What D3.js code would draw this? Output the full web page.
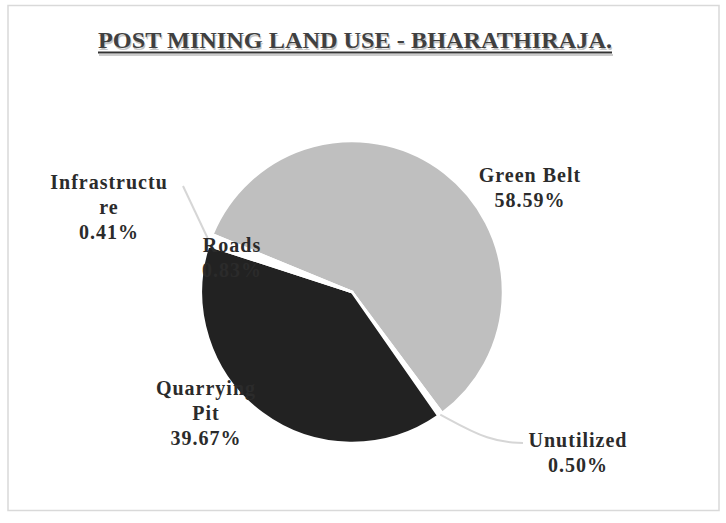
<!DOCTYPE html>
<html>
<head>
<meta charset="utf-8">
<script src="https://cdn.jsdelivr.net/npm/d3@7"></script>
<style>
  html, body { margin: 0; padding: 0; background: #fff; }
  svg { display: block; }
  text { font-family: "Liberation Serif", "Times New Roman", serif; }
</style>
</head>
<body>
<script>
// ---- data ----
const categories = ["Green Belt", "Unutilized", "Quarrying Pit", "Roads", "Infrastructure"];
const values = [58.59, 0.50, 39.67, 0.83, 0.41];
const labelLines = [
  ["Green Belt", "58.59%"],
  ["Unutilized", "0.50%"],
  ["Quarrying", "Pit", "39.67%"],
  ["Roads", "0.83%"],
  ["Infrastructu", "re", "0.41%"]
];
const titleText = "POST MINING  LAND USE - BHARATHIRAJA.";

// ---- layout / style ----
const W = 726, H = 523;
const cx = 352, cy = 292, R = 151;
const colors = ["#bfbfbf", "#ffffff", "#222222", "#ffffff", "#ffffff"];
const labelPos = [[530, 175], [578, 440], [206, 388], [232, 245], [109, 182]];
const leaderEnd = [null, [523, 443], null, null, [183, 186]];
const leaderCurve = [false, true, false, false, false];
const lineGap = 25;

const svg = d3.select("body").append("svg").attr("width", W).attr("height", H);

svg.append("rect").attr("x", 8).attr("y", 5.5).attr("width", 711).attr("height", 505)
  .attr("fill", "#fff").attr("stroke", "#d9d9d9").attr("stroke-width", 1.5);

// title
const tX0 = 98, tW = 514, tY = 48;
svg.append("text").attr("x", tX0 + 1).attr("y", tY + 1.5)
  .attr("textLength", tW).attr("lengthAdjust", "spacingAndGlyphs")
  .attr("font-size", 23).attr("font-weight", "bold").attr("fill", "#c4c4c4").text(titleText);
svg.append("text").attr("x", tX0).attr("y", tY)
  .attr("textLength", tW).attr("lengthAdjust", "spacingAndGlyphs")
  .attr("font-size", 23).attr("font-weight", "bold").attr("fill", "#404040").text(titleText);
svg.append("line").attr("x1", tX0).attr("x2", tX0 + tW).attr("y1", 52.5).attr("y2", 52.5)
  .attr("stroke", "#333").attr("stroke-width", 2);
svg.append("line").attr("x1", tX0 + 1).attr("x2", tX0 + tW + 1).attr("y1", 55).attr("y2", 55)
  .attr("stroke", "#bbb").attr("stroke-width", 1.5);

// pie
const data = categories.map((c, i) => ({ name: c, value: values[i], idx: i }));
const start = -67.6 * Math.PI / 180;
const pie = d3.pie().value(d => d.value).sort(null)
  .startAngle(start).endAngle(start + 2 * Math.PI);
const arcs = pie(data);
const arc = d3.arc().innerRadius(0).outerRadius(R);
const outer = d3.arc().innerRadius(R).outerRadius(R);

const g = svg.append("g").attr("transform", `translate(${cx},${cy})`);
g.selectAll("path").data(arcs).join("path")
  .attr("d", arc)
  .attr("fill", d => colors[d.data.idx])
  .attr("stroke", "#fff").attr("stroke-width", 2.5).attr("stroke-linejoin", "round");

// leader lines
arcs.forEach(a => {
  const i = a.data.idx;
  const e = leaderEnd[i];
  if (!e) return;
  const p = outer.centroid(a);
  const sx = cx + p[0], sy = cy + p[1];
  const pts = leaderCurve[i]
    ? [[sx, sy], [sx + (e[0] - sx) * 0.6, sy + (e[1] - sy) * 0.95], e]
    : [[sx - 4, sy + 2], e];
  svg.append("path")
    .attr("d", d3.line().curve(d3.curveBasis)(pts))
    .attr("fill", "none").attr("stroke", "#d6d6d6").attr("stroke-width", 2);
});

// labels
arcs.forEach(a => {
  const i = a.data.idx;
  const [lx, ly] = labelPos[i];
  const t = svg.append("text").attr("text-anchor", "middle")
    .attr("font-size", 20).attr("font-weight", "bold").attr("letter-spacing", 1)
    .attr("fill", "#2b2b2b");
  labelLines[i].forEach((s, k) => {
    t.append("tspan").attr("x", lx).attr("y", ly + 7 + k * lineGap).text(s);
  });
});
</script>
</body>
</html>
